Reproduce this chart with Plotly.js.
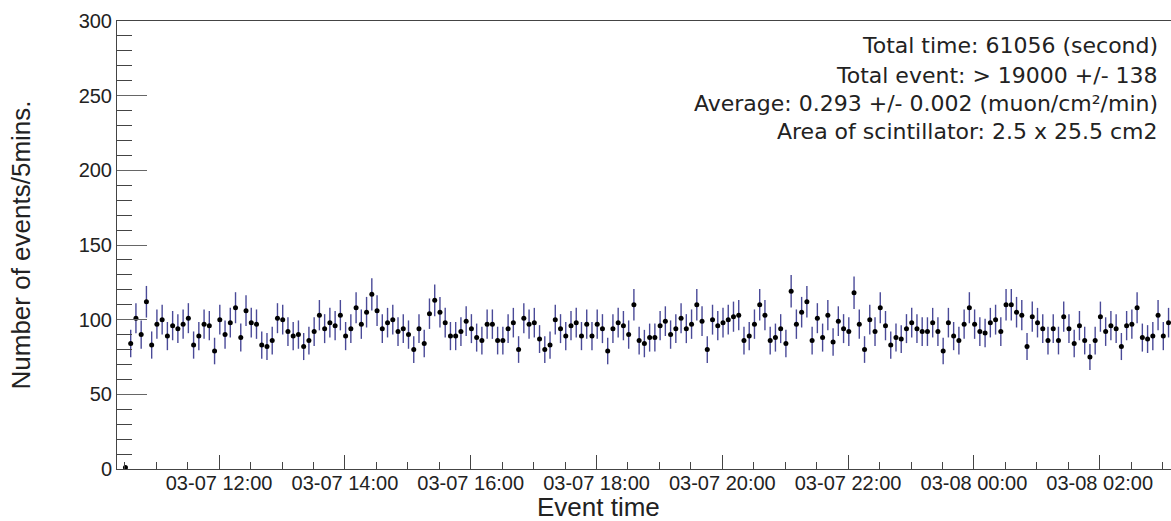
<!DOCTYPE html>
<html>
<head>
<meta charset="utf-8">
<script src="https://cdn.plot.ly/plotly-3.0.1.min.js"></script>
<style>html,body{margin:0;padding:0;background:#fff;}#chart{width:1171px;height:521px;}</style>
</head>
<body>
<div id="chart"></div>
<script>
// Histogram: number of events per 5-minute bin
const binStart = '2024-03-07T10:30:40Z';   // centre of first bin
const binWidthMin = 5;
const counts = [1,
  84,101,90,112,83,97,100,89,96,94,97,101,83,89,97,96,79,100,90,98,
  108,88,106,98,97,83,82,86,101,100,92,89,90,82,86,92,103,94,98,96,
  103,89,94,108,97,105,117,106,
  94,98,100,92,94,90,80,94,84,104,113,105,98,89,89,92,99,94,88,86,
  97,97,86,86,94,98,80,101,97,98,87,80,83,100,94,89,96,98,89,97,
  89,97,94,79,94,98,96,90,110,86,
  84,88,88,96,99,90,94,101,94,97,110,99,80,100,96,98,100,102,103,86,
  89,97,110,103,86,88,94,84,119,97,105,112,86,101,88,103,85,99,94,92,
  118,97,80,100,92,108,96,83,88,
  87,94,98,94,92,92,98,92,79,98,89,86,97,108,97,92,91,98,100,92,
  110,110,105,103,82,102,98,94,86,94,86,102,94,84,96,86,75,86,102,92,
  96,94,82,96,97,108,88,87,89,103,89,98];
const statLines = [
  'Total time: 61056 (second)',
  'Total event: > 19000 +/- 138',
  'Average: 0.293 +/- 0.002 (muon/cm\u00B2/min)',
  'Area of scintillator: 2.5 x 25.5 cm2'
];
const xRange = ['2024-03-07 10:22:36', '2024-03-08 03:08:00'];
const yRange = [0, 300];

function fmt(ms){ return new Date(ms).toISOString().replace('T',' ').slice(0,19); }
const t0 = Date.parse(binStart);
const times = counts.map((_, i) => fmt(t0 + i * binWidthMin * 60000));
const errs = counts.map(v => Math.sqrt(v));

const trace = {
  type: 'scatter', mode: 'markers', x: times, y: counts,
  marker: {color: '#000000', size: 5, symbol: 'circle'},
  error_y: {type: 'data', array: errs, visible: true, color: '#4a4a98', thickness: 1.4, width: 0},
  hoverinfo: 'x+y'
};

const tickFont = {family: 'Liberation Sans, Arial, sans-serif', size: 20, color: '#222'};
const statFont = {family: 'DejaVu Sans, sans-serif', size: 22, color: '#222'};
const plotTop = 21, plotBottom = 469, plotLeft = 117, plotW = 1054;
const statY = [46, 75, 103, 131];
const annotations = statLines.map((t, i) => ({
  text: t, xref: 'paper', yref: 'paper', x: (1160 - plotLeft) / plotW,
  y: (plotBottom - statY[i]) / (plotBottom - plotTop), xanchor: 'right', yanchor: 'middle',
  showarrow: false, font: statFont
}));
annotations.push({
  text: 'Event time', xref: 'paper', yref: 'paper', x: (598 - plotLeft) / plotW,
  y: -(507 - plotBottom) / (plotBottom - plotTop), xanchor: 'center', yanchor: 'middle',
  showarrow: false, font: {family: 'Liberation Sans, Arial, sans-serif', size: 26, color: '#222'}
});

const layout = {
  width: 1171, height: 521,
  margin: {l: 117, r: 0, t: 21, b: 52},
  paper_bgcolor: '#fff', plot_bgcolor: '#fff',
  showlegend: false,
  xaxis: {
    type: 'date', range: xRange, showgrid: false, zeroline: false,
    showline: true, linecolor: '#444', linewidth: 1, mirror: true,
    ticks: 'inside', ticklen: 14, tickcolor: '#444', tickwidth: 1,
    dtick: 7200000, tick0: '2024-03-07 00:00:00', tickformat: '%m-%d %H:%M',
    tickfont: tickFont, ticklabelstandoff: -4,
    minor: {dtick: 1800000, tick0: '2024-03-07 00:00:00', ticks: 'inside', ticklen: 7, tickcolor: '#444', showgrid: false}
  },
  yaxis: {
    range: yRange, showgrid: false, zeroline: false,
    showline: true, linecolor: '#444', linewidth: 1,
    ticks: 'inside', ticklen: 30, tickcolor: '#666', tickwidth: 1,
    dtick: 50, tick0: 0, tickfont: tickFont,
    minor: {dtick: 10, ticks: 'inside', ticklen: 15, tickcolor: '#444', showgrid: false},
    title: {text: 'Number of events/5mins.', font: {family: 'Liberation Sans, Arial, sans-serif', size: 26, color: '#222'}, standoff: 40}
  },
  annotations: annotations
};

Plotly.newPlot('chart', [trace], layout, {displayModeBar: false, staticPlot: true});
</script>
</body>
</html>
